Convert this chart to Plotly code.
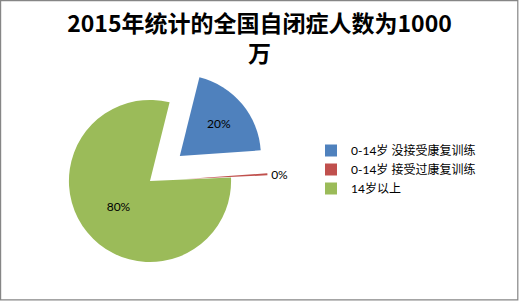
import plotly.graph_objects as go

# Share of autism population (percent), 2015
categories = ["0-14岁 没接受康复训练", "0-14岁 接受过康复训练", "14岁以上"]
shares = [20, 0.4, 79.6]
colors = ["#4F81BD", "#C0504D", "#9BBB59"]
pulls = [0.48, 0.45, 0]

W, H = 519, 301
cx, cy, box = 150, 181, 240

fig = go.Figure(
    go.Pie(
        labels=categories,
        values=shares,
        sort=False,
        direction="clockwise",
        rotation=14,
        pull=pulls,
        marker=dict(colors=colors, line=dict(width=0)),
        texttemplate="%{percent:.0%}",
        textposition=["inside", "outside", "inside"],
        insidetextorientation="horizontal",
        textfont=dict(family="Lato, Noto Sans CJK SC", size=12, color="#000000"),
        outsidetextfont=dict(family="Lato, Noto Sans CJK SC", size=12, color="#000000"),
        domain=dict(
            x=[(cx - box / 2) / W, (cx + box / 2) / W],
            y=[max(0, 1 - (cy + box / 2) / H), 1 - (cy - box / 2) / H],
        ),
        hoverinfo="label+percent",
    )
)

fig.update_layout(
    width=W,
    height=H,
    margin=dict(l=0, r=0, t=0, b=0, autoexpand=False),
    paper_bgcolor="#FFFFFF",
    plot_bgcolor="#FFFFFF",
    title=dict(
        text="2015年统计的全国自闭症人数为1000<br>万",
        x=0.5,
        xanchor="center",
        y=1 - 32 / H,
        yanchor="top",
        font=dict(family="Noto Sans CJK SC", size=23, color="#000000", weight="bold"),
    ),
    showlegend=True,
    legend=dict(
        x=(353 - 42) / W,
        xanchor="left",
        y=1 - 136 / H,
        yanchor="top",
        font=dict(family="Lato, Noto Sans CJK SC", size=12, color="#000000"),
        bgcolor="rgba(0,0,0,0)",
        itemclick=False,
    ),
    shapes=[
        dict(
            type="rect",
            xref="paper",
            yref="paper",
            x0=0.6 / W,
            x1=1 - 1.2 / W,
            y0=1.2 / H,
            y1=1 - 0.6 / H,
            line=dict(color="#868686", width=1.2),
            fillcolor="rgba(0,0,0,0)",
        )
    ],
)

fig.write_html("out.html")
